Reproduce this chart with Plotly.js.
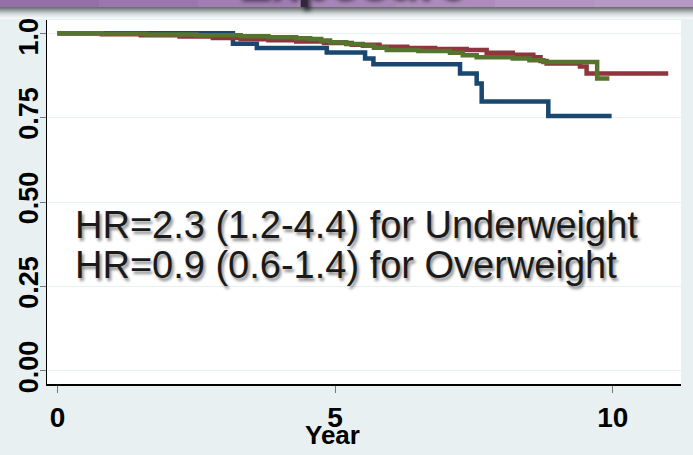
<!DOCTYPE html>
<html>
<head>
<meta charset="utf-8">
<script src="https://cdn.plot.ly/plotly-3.0.1.min.js"></script>
<style>html,body{margin:0;padding:0;background:#e9f0f2;}#chart{width:693px;height:455px;}</style>
</head>
<body>
<div id="chart"></div>
<script>
// Kaplan-Meier survival estimates
const underTime = [0, 3.16, 3.59, 4.85, 5.54, 5.69, 7.25, 7.55, 7.64, 8.84, 9.98];
const underSurv = [1.0, 0.969, 0.956, 0.943, 0.925, 0.908, 0.881, 0.851, 0.798, 0.755, 0.755];

const normalTime = [0, 0.8, 1.5, 2.2, 2.8, 3.3, 3.8, 4.3, 4.8, 5.3, 5.8, 6.3, 6.8, 7.37, 7.73, 8.2, 8.57, 8.7, 8.81, 9.41, 9.53, 11.0];
const normalSurv = [1.0, 0.997, 0.994, 0.990, 0.986, 0.982, 0.979, 0.975, 0.971, 0.966, 0.960, 0.956, 0.953, 0.950, 0.942, 0.936, 0.929, 0.918, 0.910, 0.901, 0.881, 0.881];

const overTime = [0, 0.8, 1.6, 2.5, 3.3, 3.8, 4.3, 4.55, 4.75, 4.91, 5.2, 5.5, 5.7, 5.93, 6.5, 7.07, 7.3, 7.55, 8.2, 8.5, 8.75, 9.72, 9.94];
const overSurv = [1.0, 0.998, 0.996, 0.994, 0.991, 0.988, 0.985, 0.983, 0.978, 0.973, 0.968, 0.963, 0.957, 0.950, 0.947, 0.942, 0.935, 0.929, 0.925, 0.920, 0.915, 0.866, 0.866];

const xTicks = [0, 5, 10];
const yTicks = [0, 0.25, 0.5, 0.75, 1.0];
const yTickText = ["0.00", "0.25", "0.50", "0.75", "1.00"];
const xTitle = "Year";
const hrLines = ["HR=2.3 (1.2-4.4) for Underweight", "HR=0.9 (0.6-1.4) for Overweight"];
const headerText = "Exposure";

const lineW = 4.5;
const traces = [
  {x: underTime, y: underSurv, mode: 'lines', line: {shape: 'hv', color: '#1a476f', width: lineW}, name: 'Underweight'},
  {x: normalTime, y: normalSurv, mode: 'lines', line: {shape: 'hv', color: '#90353b', width: lineW}, name: 'Normal'},
  {x: overTime, y: overSurv, mode: 'lines', line: {shape: 'hv', color: '#55752f', width: lineW}, name: 'Overweight'}
];

// paper-coordinate helpers (plot area: x 47..681 px, y 20..384 px)
const L = 47, R = 12, T = 20, B = 71, W = 693, H = 455;
const pw = W - L - R, ph = H - T - B;
const px = v => (v - L) / pw;
const py = v => (H - B - v) / ph;

const shapes = [];
// shadow gradient below the header band
const shadeCols = ['#6f7275','#7d8083','#8d9093','#9da1a3','#aeb2b4','#bec3c5','#ccd1d3','#d8dee0','#e1e7e9','#e8eef0','#eef3f4','#f5f8f8'];
shadeCols.forEach((c, i) => {
  shapes.push({type: 'rect', xref: 'paper', yref: 'paper', layer: 'above',
    x0: px(0), x1: px(W), y0: py(7 + i + 1), y1: py(7 + i), fillcolor: c, line: {width: 0}});
});
// purple header band (horizontal gradient)
const purpleCols = ['#9371a8','#9a77ae','#a07eb3','#a785b8','#ad8cbd','#b293c2','#b698c5'];
purpleCols.forEach((c, i) => {
  shapes.push({type: 'rect', xref: 'paper', yref: 'paper', layer: 'above',
    x0: px(i * W / purpleCols.length), x1: px((i + 1) * W / purpleCols.length + 1), y0: py(7), y1: py(0), fillcolor: c, line: {width: 0}});
});

const annotations = [
  {xref: 'paper', yref: 'paper', x: px(350), y: py(10), xanchor: 'center', yanchor: 'bottom', showarrow: false,
   text: headerText, font: {family: 'Liberation Sans, Arial', size: 50, color: '#33283a', weight: 'bold', shadow: '3px 4px 4px rgba(0,0,0,0.6)'}},
  {xref: 'paper', yref: 'paper', x: px(73), y: py(225), xanchor: 'left', yanchor: 'middle', showarrow: false,
   text: hrLines[0], font: {family: 'Liberation Sans, Arial', size: 38, color: '#1a1a1a', shadow: '2px 3px 3px rgba(0,0,0,0.45)'}},
  {xref: 'paper', yref: 'paper', x: px(73), y: py(265), xanchor: 'left', yanchor: 'middle', showarrow: false,
   text: hrLines[1], font: {family: 'Liberation Sans, Arial', size: 38, color: '#1a1a1a', shadow: '2px 3px 3px rgba(0,0,0,0.45)'}},
  {xref: 'x', yref: 'paper', x: 4.95, y: py(435), xanchor: 'center', yanchor: 'middle', showarrow: false,
   text: xTitle, font: {family: 'Liberation Sans, Arial', size: 26, color: '#000', weight: 'bold'}}
];

const layout = {
  width: W, height: H,
  margin: {l: L, r: R, t: T, b: B, pad: 0},
  paper_bgcolor: '#e9f0f2',
  plot_bgcolor: '#ffffff',
  showlegend: false,
  xaxis: {
    range: [-0.189, 11.23], tickvals: xTicks, ticktext: xTicks.map(String),
    ticks: 'outside', ticklen: 7, tickwidth: 1, tickcolor: '#777',
    showline: true, linecolor: '#000', linewidth: 1.5, showgrid: false, zeroline: false,
    tickfont: {family: 'Liberation Sans, Arial', size: 28, color: '#000', weight: 'bold'},
    ticklabelstandoff: 1
  },
  yaxis: {
    range: [-0.0385, 1.039], tickvals: yTicks, ticktext: yTickText, tickangle: -90,
    ticks: 'outside', ticklen: 6, tickwidth: 1, tickcolor: '#777',
    showline: true, linecolor: '#000', linewidth: 1.5, showgrid: true, gridcolor: '#e9f0f2', gridwidth: 1, zeroline: false,
    tickfont: {family: 'Liberation Sans, Arial', size: 27, color: '#000', weight: 'bold'},
    ticklabelstandoff: -9
  },
  shapes: shapes,
  annotations: annotations
};

Plotly.newPlot('chart', traces, layout, {displayModeBar: false, staticPlot: true});
</script>
</body>
</html>
